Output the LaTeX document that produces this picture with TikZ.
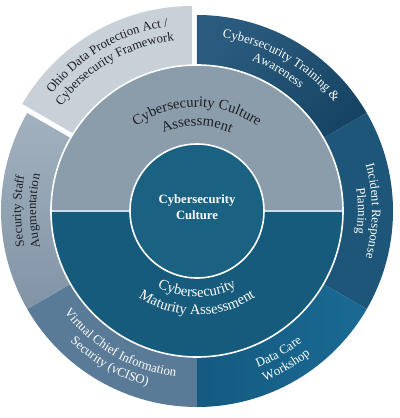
\documentclass[tikz,border=0pt]{standalone}
\usepackage{fontspec}
\setmainfont{Liberation Serif}
\usetikzlibrary{decorations.text}
\definecolor{ohiogray}{HTML}{C8D0D8}
\definecolor{staffgraytop}{HTML}{A2B1BF}
\definecolor{staffgraybot}{HTML}{8194A6}
\definecolor{cisoblue}{HTML}{5A7B97}
\definecolor{careblueleft}{HTML}{145A81}
\definecolor{careblueright}{HTML}{1A6A93}
\definecolor{incidentblue}{HTML}{1D5678}
\definecolor{trainingtop}{HTML}{2A5B7E}
\definecolor{trainingbot}{HTML}{113D5C}
\definecolor{culturegray}{HTML}{8B9CAB}
\definecolor{maturityblue}{HTML}{165A7C}
\definecolor{coreblue}{HTML}{1B6282}
\definecolor{splitline}{HTML}{C9DCE8}
\definecolor{darktext}{HTML}{1E1E24}

\newcommand{\ringfont}{\fontsize{9.6}{11}\selectfont}
\newcommand{\midfont}{\fontsize{11}{13}\selectfont}
% color, font, radius, start angle, end angle, text
\newcommand{\arclabel}[6]{%
	\path[decorate,decoration={text along path,text color=#1,text align=center,
		text={|#2|#6}}] (#4:#3) arc[start angle=#4,end angle=#5,radius=#3];}

\begin{document}
\begin{tikzpicture}[x=0.75pt,y=0.75pt]
	\useasboundingbox (-197,-207) rectangle (203,211);
	
	% outer ring
	\shade[top color=trainingtop,bottom color=trainingbot,shading angle=45] (0,0) -- (90:196) arc[start angle=90,end angle=30,radius=196] -- cycle;
	\fill[incidentblue] (0,0) -- (30:196) arc[start angle=30,end angle=-30,radius=196] -- cycle;
	\shade[left color=careblueleft,right color=careblueright] (0,0) -- (-30:196) arc[start angle=-30,end angle=-90,radius=196] -- cycle;
	\fill[cisoblue] (0,0) -- (-90:196) arc[start angle=-90,end angle=-150,radius=196] -- cycle;
	\shade[top color=staffgraytop,bottom color=staffgraybot] (0,0) -- (210:196) arc[start angle=210,end angle=150,radius=196] -- cycle;
	\begin{scope}[shift={(-5,9)}]
		\fill[ohiogray] (0,0) -- (150:196) arc[start angle=150,end angle=90,radius=196] -- cycle;
	\end{scope}
	
	% middle ring
	\fill[culturegray] (180:146) arc[start angle=180,end angle=0,radius=146] -- cycle;
	\fill[maturityblue] (180:146) arc[start angle=180,end angle=360,radius=146] -- cycle;
	\draw[splitline,line width=1.3pt] (180:146) -- (0:146);
	\draw[white,line width=1.2pt] (0,0) circle[radius=146];
	
	\node[circle,draw=white,line width=1.2pt,fill=coreblue,minimum size=100.5pt] (core) at (0,0) {};
	\node[text=white,align=center,font=\bfseries\fontsize{9.5}{12}\selectfont] (corelabel) at ([yshift=3pt]core.center) {Cybersecurity\\Culture};
	
	% middle labels
	\arclabel{darktext}{\midfont}{104}{180}{0}{Cybersecurity Culture}
	\arclabel{darktext}{\midfont}{85}{180}{0}{Assessment}
	\arclabel{white}{\midfont}{86}{180}{360}{Cybersecurity}
	\arclabel{white}{\midfont}{104}{180}{360}{Maturity Assessment}
	
	% outer labels
	\begin{scope}[shift={(-5,9)}]
		\arclabel{darktext}{\ringfont}{177}{150}{90}{Ohio Data Protection Act /}
		\arclabel{darktext}{\ringfont}{162}{150}{90}{Cybersecurity Framework}
	\end{scope}
	\arclabel{white}{\ringfont}{175}{90}{30}{Cybersecurity Training {\&}}
	\arclabel{white}{\ringfont}{160}{90}{30}{Awareness}
	\arclabel{white}{\ringfont}{175}{30}{-30}{Incident Response}
	\arclabel{white}{\ringfont}{161}{30}{-30}{Planning}
	\arclabel{white}{\ringfont}{168}{-90}{-30}{Data Care}
	\arclabel{white}{\ringfont}{183}{-90}{-30}{Workshop}
	\arclabel{white}{\ringfont}{167}{-150}{-90}{Virtual Chief Information}
	\arclabel{white}{\ringfont}{182}{-150}{-90}{Security (vCISO)}
	\arclabel{darktext}{\ringfont}{176}{210}{150}{Security Staff}
	\arclabel{darktext}{\ringfont}{161}{210}{150}{Augmentation}
\end{tikzpicture}
\end{document}
